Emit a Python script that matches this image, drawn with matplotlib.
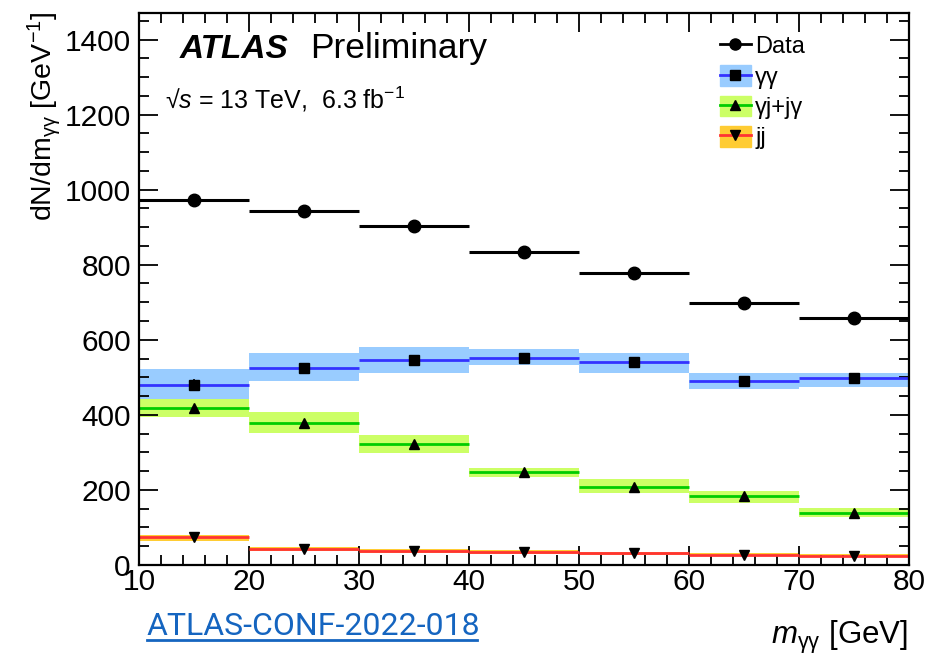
import numpy as np
import matplotlib
matplotlib.use('Agg')
import matplotlib.pyplot as plt
from matplotlib.patches import Patch
from matplotlib.lines import Line2D
from matplotlib.ticker import MultipleLocator

plt.rcParams['font.family'] = ['Liberation Sans', 'DejaVu Sans']
plt.rcParams['mathtext.fontset'] = 'custom'
plt.rcParams['mathtext.rm'] = 'Liberation Sans'
plt.rcParams['mathtext.it'] = 'Liberation Sans:italic'

# bins in m_yy [GeV]
edges = np.array([10, 20, 30, 40, 50, 60, 70, 80])

data = [973, 944, 904, 835, 779, 699, 659]

yy = [480, 525, 547, 551, 541, 489, 498]
yy_lo = [442, 489, 511, 533, 511, 469, 475]
yy_hi = [522, 565, 581, 575, 566, 511, 511]
yy_stat = [15, 14, 13, 12, 12, 11, 11]

yj = [419, 379, 321, 249, 207, 184, 138]
yj_lo = [395, 351, 299, 235, 191, 165, 127]
yj_hi = [442, 407, 347, 259, 229, 197, 151]

jj = [74, 43, 37, 35, 31, 27, 25]
jj_lo = [64, 37, 32, 29, 27, 23, 21]
jj_hi = [80, 47, 42, 41, 35, 31, 29]

blue_band, blue_line = '#99ccff', '#3333ff'
green_band, green_line = '#ccff66', '#00cc00'
orange_band, red_line = '#ffcc33', '#ff3333'

centers = 0.5 * (edges[:-1] + edges[1:])
widths = np.diff(edges)

fig = plt.figure(figsize=(9.28, 6.6), dpi=100)
ax = fig.add_axes([0.150, 0.144, 0.8295, 0.837])


def draw_component(vals, lo, hi, band, line, marker, ms, yerr=None):
    lo = np.array(lo)
    hi = np.array(hi)
    ax.bar(centers, hi - lo, bottom=lo, width=widths, color=band,
           linewidth=0, zorder=1)
    ax.hlines(vals, edges[:-1], edges[1:], colors=line, linewidth=2.0,
              zorder=2)
    ax.errorbar(centers, vals, yerr=yerr, fmt=marker, color='black', ms=ms,
                elinewidth=1.2, capsize=0, zorder=3)


draw_component(yy, yy_lo, yy_hi, blue_band, blue_line, 's', 6.5, yy_stat)
draw_component(yj, yj_lo, yj_hi, green_band, green_line, '^', 7)
draw_component(jj, jj_lo, jj_hi, orange_band, red_line, 'v', 7)

ax.errorbar(centers, data, xerr=widths / 2, fmt='o', color='black', ms=9,
            elinewidth=2.2, capsize=0, zorder=4)

ax.set_xlim(10, 80)
ax.set_ylim(0, 1472)
ax.xaxis.set_major_locator(MultipleLocator(10))
ax.xaxis.set_minor_locator(MultipleLocator(2))
ax.yaxis.set_major_locator(MultipleLocator(200))
ax.yaxis.set_minor_locator(MultipleLocator(50))
ax.tick_params(which='both', direction='in', top=True, right=True,
               width=1.3, labelsize=21.5)
ax.tick_params(which='major', length=14)
ax.tick_params(which='minor', length=7)
ax.tick_params(axis='x', pad=2)
ax.tick_params(axis='y', pad=6)
for s in ax.spines.values():
    s.set_linewidth(1.6)

ax.text(0.053, 0.918, 'ATLAS', transform=ax.transAxes, fontsize=24,
        fontweight='bold', fontstyle='italic')
ax.text(0.222, 0.918, 'Preliminary', transform=ax.transAxes, fontsize=25.5)
ax.text(0.034, 0.827, r'√$s$ = 13 TeV,  6.3 fb$^{\mathregular{-1}}$',
        transform=ax.transAxes, fontsize=18)

h_data = Line2D([], [], color='black', marker='o', ms=8, lw=2)
h_yy = (Patch(color=blue_band), Line2D([], [], color=blue_line, lw=2),
        Line2D([], [], color='black', marker='s', ms=7, lw=0))
h_yj = (Patch(color=green_band), Line2D([], [], color=green_line, lw=2),
        Line2D([], [], color='black', marker='^', ms=7, lw=0))
h_jj = (Patch(color=orange_band), Line2D([], [], color=red_line, lw=2),
        Line2D([], [], color='black', marker='v', ms=7, lw=0))
ax.legend([h_data, h_yy, h_yj, h_jj],
          ['Data', 'γγ', 'γj+jγ', 'jj'],
          loc='upper left', bbox_to_anchor=(0.736, 0.985), frameon=False,
          fontsize=17, handlelength=1.3, handleheight=0.95,
          handletextpad=0.2, labelspacing=0.3, borderaxespad=0.2)

fig.text(0.048, 0.982, r'dN/dm$_{\mathrm{\gamma\gamma}}$ [GeV$^{\mathregular{-1}}$]',
         rotation=90, ha='center', va='top', fontsize=20.5)
fig.text(0.979, 0.025, r'$m_{\mathrm{\gamma\gamma}}$ [GeV]', ha='right',
         va='baseline', fontsize=22.5)
fig.text(0.158, 0.038, 'ATLAS-CONF-2022-018', ha='left', va='baseline',
         fontsize=23, color='#1565c0', family='Roboto')
fig.add_artist(Line2D([0.158, 0.514], [0.030, 0.030], color='#1565c0',
                      lw=2, transform=fig.transFigure))

plt.savefig('out.png', dpi=100)
